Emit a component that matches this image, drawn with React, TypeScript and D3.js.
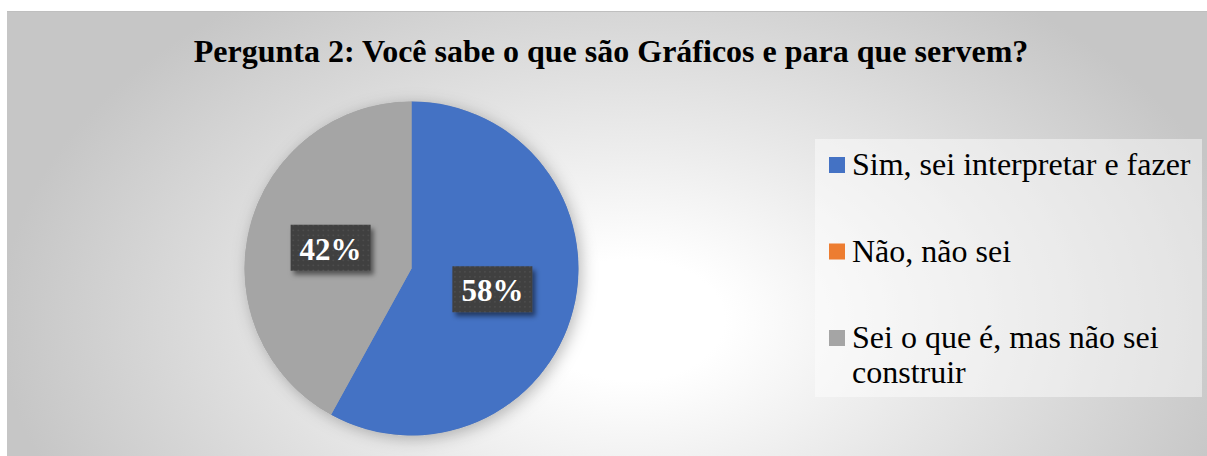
import * as d3 from "d3";
import { useEffect, useRef } from "react";

// chart values
const categories = ["Sim, sei interpretar e fazer", "Não, não sei", "Sei o que é, mas não sei construir"];
const legendLines = [["Sim, sei interpretar e fazer"], ["Não, não sei"], ["Sei o que é, mas não sei", "construir"]];
const shares = [58, 0, 42];
const colors = ["#4472c4", "#ed7d31", "#a5a5a5"];
const title = "Pergunta 2: Você sabe o que são Gráficos e para que servem?";

const W = 1207;
const H = 456;
const SERIF = "Liberation Serif, Times New Roman, serif";

const App = () => {
  const ref = useRef<SVGSVGElement>(null);

  useEffect(() => {
    const svg = d3.select(ref.current);
    svg.selectAll("*").remove();

    const defs = svg.append("defs");

    // background gradient, light in the middle, grey at the edges
    const grad = defs
      .append("radialGradient")
      .attr("id", "bg")
      .attr("gradientUnits", "userSpaceOnUse")
      .attr("cx", 630)
      .attr("cy", 320)
      .attr("r", 630)
      .attr("gradientTransform", "translate(630,320) scale(1,0.64) translate(-630,-320)");
    grad.append("stop").attr("offset", "0.15").attr("stop-color", "#ffffff");
    grad.append("stop").attr("offset", "1").attr("stop-color", "#c6c6c6");

    // dotted fill for the data label boxes
    const pat = defs
      .append("pattern")
      .attr("id", "dots")
      .attr("width", 5)
      .attr("height", 5)
      .attr("patternUnits", "userSpaceOnUse");
    pat.append("rect").attr("width", 5).attr("height", 5).attr("fill", "#3f3f3f");
    pat.append("rect").attr("x", 2).attr("y", 2).attr("width", 1.2).attr("height", 1.2).attr("fill", "#5a5a5a");

    const pieShadow = defs.append("filter").attr("id", "pieShadow").attr("x", "-20%").attr("y", "-20%").attr("width", "140%").attr("height", "140%");
    pieShadow
      .append("feDropShadow")
      .attr("dx", 3)
      .attr("dy", 3)
      .attr("stdDeviation", 8)
      .attr("flood-color", "#000")
      .attr("flood-opacity", 0.28);

    const boxShadow = defs.append("filter").attr("id", "boxShadow").attr("x", "-20%").attr("y", "-20%").attr("width", "150%").attr("height", "160%");
    boxShadow
      .append("feDropShadow")
      .attr("dx", 3)
      .attr("dy", 4)
      .attr("stdDeviation", 2.5)
      .attr("flood-color", "#000")
      .attr("flood-opacity", 0.5);

    svg.append("rect").attr("x", 7).attr("y", 11).attr("width", W - 7).attr("height", H - 11).attr("fill", "url(#bg)");
    svg.append("line").attr("x1", 7).attr("x2", W).attr("y1", 11.5).attr("y2", 11.5).attr("stroke", "#bfbfbf").attr("stroke-width", 1);

    svg
      .append("text")
      .attr("x", 611)
      .attr("y", 62)
      .attr("text-anchor", "middle")
      .style("font-family", SERIF)
      .style("font-weight", "bold")
      .style("font-size", "32px")
      .attr("fill", "#000")
      .text(title);

    // pie
    const cx = 411.5;
    const cy = 268.5;
    const r = 167;
    const pie = d3.pie<number>().sort(null).value((d) => d);
    const arcs = pie(shares);
    const arc = d3.arc<d3.PieArcDatum<number>>().innerRadius(0).outerRadius(r);
    const labelArc = d3.arc<d3.PieArcDatum<number>>().innerRadius(r * 0.5).outerRadius(r * 0.5);

    const g = svg.append("g").attr("transform", `translate(${cx},${cy})`);
    g.append("circle").attr("r", r).attr("fill", "#a5a5a5").attr("filter", "url(#pieShadow)");
    g.selectAll("path.slice")
      .data(arcs)
      .enter()
      .append("path")
      .attr("class", "slice")
      .attr("d", arc)
      .attr("fill", (d, i) => colors[i]);

    // data labels
    const bw = 80;
    const bh = 46;
    const labels = g
      .selectAll("g.lbl")
      .data(arcs.filter((d) => d.data > 0))
      .enter()
      .append("g")
      .attr("class", "lbl")
      .attr("transform", (d) => {
        const [x, y] = labelArc.centroid(d);
        return `translate(${x},${y})`;
      });
    labels
      .append("rect")
      .attr("x", -bw / 2)
      .attr("y", -bh / 2)
      .attr("width", bw)
      .attr("height", bh)
      .attr("fill", "url(#dots)")
      .attr("filter", "url(#boxShadow)");
    labels
      .append("text")
      .attr("text-anchor", "middle")
      .attr("y", 12)
      .style("font-family", SERIF)
      .style("font-weight", "bold")
      .style("font-size", "31px")
      .attr("fill", "#fff")
      .text((d) => `${d.data}%`);

    // legend
    const lx = 815;
    const ly = 139;
    svg
      .append("rect")
      .attr("x", lx)
      .attr("y", ly)
      .attr("width", 387)
      .attr("height", 258)
      .attr("fill", "#ffffff")
      .attr("fill-opacity", 0.45);

    const yRow = d3.scaleLinear().domain([0, 2]).range([175, 348]);
    const items = svg
      .selectAll("g.leg")
      .data(categories)
      .enter()
      .append("g")
      .attr("class", "leg")
      .attr("transform", (d, i) => `translate(0,${yRow(i)})`);
    items
      .append("rect")
      .attr("x", 829)
      .attr("y", -18)
      .attr("width", 16)
      .attr("height", 16)
      .attr("fill", (d, i) => colors[i]);
    items
      .append("text")
      .attr("x", 852)
      .style("font-family", SERIF)
      .style("font-size", "32px")
      .attr("fill", "#000")
      .selectAll("tspan")
      .data((d, i) => legendLines[i])
      .enter()
      .append("tspan")
      .attr("x", 852)
      .attr("dy", (d, j) => (j === 0 ? 0 : 35))
      .text((d) => d);
  }, []);

  return (
    <svg ref={ref} width={W} height={H} style={{ position: "absolute", left: 0, top: 0, display: "block" }} />
  );
};

export default App;
